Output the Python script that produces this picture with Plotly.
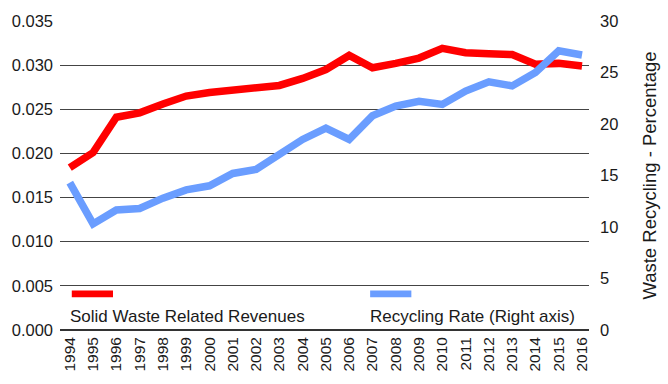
import plotly.graph_objects as go

# Annual series, 1994-2016
years = list(range(1994, 2017))
revenues = [0.0184, 0.0201, 0.0241, 0.0246, 0.0256, 0.0265, 0.0269, 0.0272,
            0.0274, 0.0277, 0.0285, 0.0295, 0.0311, 0.0297, 0.0302, 0.0308,
            0.0319, 0.0314, 0.0313, 0.0312, 0.0301, 0.0302, 0.0299]
recycling_rate = [14.3, 10.3, 11.65, 11.8, 12.8, 13.6, 14.0, 15.2, 15.6, 17.1,
                  18.5, 19.6, 18.5, 20.8, 21.75, 22.2, 21.9, 23.2, 24.1, 23.7,
                  25.0, 27.1, 26.7]

left_ticks = [0.0, 0.005, 0.010, 0.015, 0.020, 0.025, 0.030, 0.035]
right_ticks = [0, 5, 10, 15, 20, 25, 30]

RED = "#ff0000"
BLUE = "#6a9dff"
TXT = "#1a1a1a"
FONT = "Liberation Sans, Arial, sans-serif"

fig = go.Figure()
fig.add_trace(go.Scatter(x=years, y=revenues, mode="lines",
                         name="Solid Waste Related Revenues",
                         line=dict(color=RED, width=7.5), yaxis="y"))
fig.add_trace(go.Scatter(x=years, y=recycling_rate, mode="lines",
                         name="Recycling Rate (Right axis)",
                         line=dict(color=BLUE, width=7.5), yaxis="y2"))

W, H = 668, 384
L, R, T, B = 58, 71, 17, 47
pw, ph = W - L - R, H - T - B


def px_x(px):
    return (px - L) / pw


def px_y(py):
    return (H - B - py) / ph


# In-plot legend: colour swatch above each label
legend_items = [("Solid Waste Related Revenues", RED, 70, 112, 66),
                ("Recycling Rate (Right axis)", BLUE, 374, 416, 372)]
shapes = []
annotations = []
for label, color, x0, x1, tx in legend_items:
    shapes.append(dict(type="rect", xref="paper", yref="paper",
                       x0=px_x(x0), x1=px_x(x1), y0=px_y(303), y1=px_y(296),
                       fillcolor=color, line=dict(width=0), layer="above"))
    annotations.append(dict(text=label, xref="paper", yref="paper",
                            x=px_x(tx), y=px_y(323), xanchor="left",
                            yanchor="middle", showarrow=False,
                            font=dict(family=FONT, size=17, color=TXT)))

fig.update_layout(
    width=W, height=H,
    margin=dict(l=L, r=R, t=T, b=B, pad=0),
    paper_bgcolor="white", plot_bgcolor="white",
    showlegend=False,
    shapes=shapes,
    annotations=annotations,
    xaxis=dict(range=[1993.58, 2016.3], tickmode="array", tickvals=years,
               ticktext=[str(y) for y in years], tickangle=-90,
               showgrid=False, zeroline=False, showline=False, ticks="",
               ticklabelstandoff=3,
               tickfont=dict(family=FONT, size=15.5, color=TXT)),
    yaxis=dict(range=[0, 0.035], tickmode="array", tickvals=left_ticks,
               ticktext=[f"{v:.3f}" for v in left_ticks],
               showgrid=True, gridcolor="#444444", gridwidth=1.4,
               zeroline=True, zerolinecolor="#333333", zerolinewidth=2,
               showline=False, ticks="", ticklabelstandoff=6,
               tickfont=dict(family=FONT, size=16.5, color=TXT)),
    yaxis2=dict(range=[0, 30], tickmode="array", tickvals=right_ticks,
                overlaying="y", side="right", showgrid=False,
                zeroline=False, showline=False, ticks="",
                ticklabelstandoff=10,
                tickfont=dict(family=FONT, size=16.5, color=TXT),
                title=dict(text="Waste Recycling - Percentage", standoff=25,
                           font=dict(family=FONT, size=18.5, color=TXT))),
)

fig.write_html("out.html")
